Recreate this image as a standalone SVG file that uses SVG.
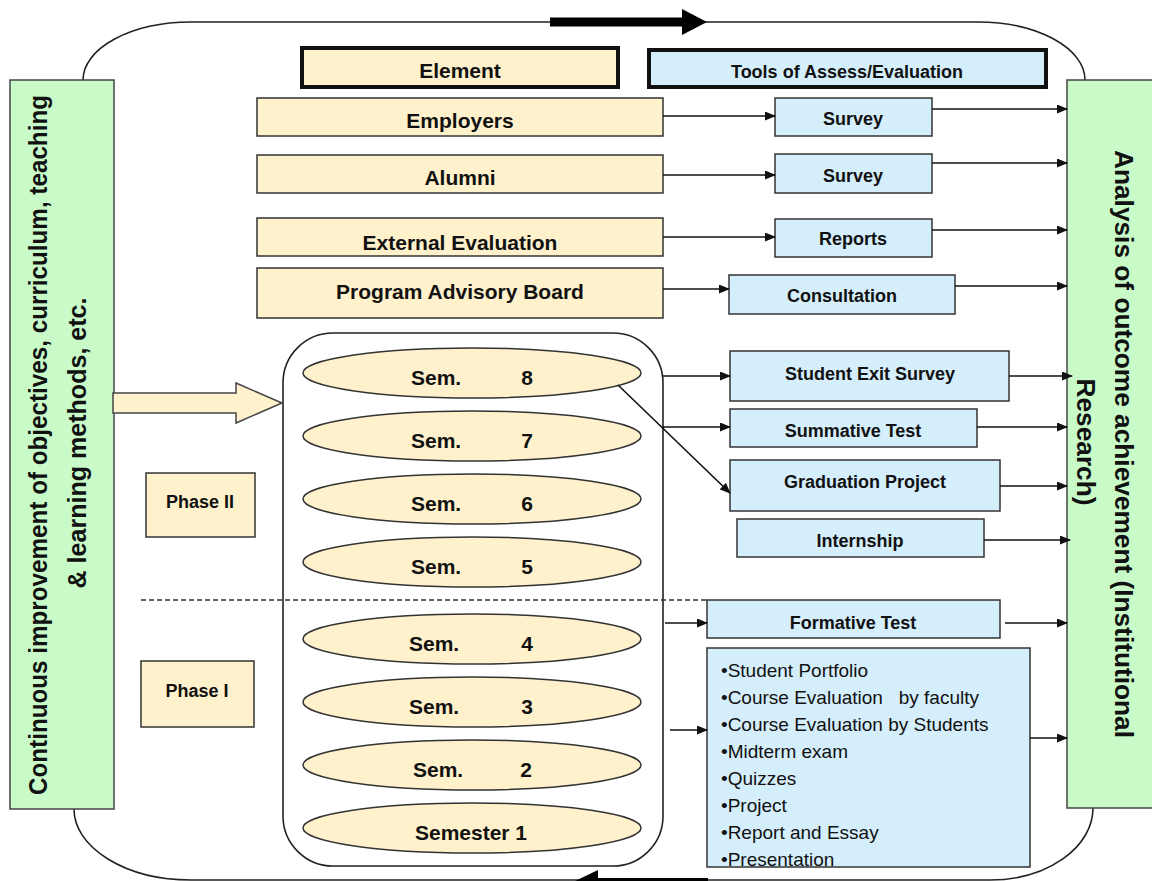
<svg xmlns="http://www.w3.org/2000/svg" width="1152" height="881" viewBox="0 0 1152 881">
<defs>
<style>
.cream{fill:#FFF1CC;stroke:#333;stroke-width:1.5}
.blue{fill:#D5EEFB;stroke:#333;stroke-width:1.5}
.green{fill:#C9FBC9;stroke:#444;stroke-width:1.5}
.thick{stroke:#111;stroke-width:4}
.lbl{font-family:"Liberation Sans",Arial,sans-serif;font-weight:bold;font-size:21px;fill:#111;text-anchor:middle}
.tl{font-family:"Liberation Sans",Arial,sans-serif;font-weight:bold;font-size:18px;fill:#111;text-anchor:middle}
.side{font-family:"Liberation Sans",Arial,sans-serif;font-weight:bold;font-size:26px;fill:#111;text-anchor:middle}
.list{font-family:"Liberation Sans",Arial,sans-serif;font-size:19px;fill:#111;white-space:pre}
.con{fill:none;stroke:#111;stroke-width:1.6}
.loop{fill:none;stroke:#222;stroke-width:1.6}
</style>
<marker id="ah" markerUnits="userSpaceOnUse" markerWidth="11" markerHeight="9" refX="10" refY="4.5" orient="auto">
<path d="M0,0 L11,4.5 L0,9 z" fill="#111"/>
</marker>
</defs>
<rect width="1152" height="881" fill="#fff"/>

<g id="loop">
<path class="loop" d="M83 80 A108 58 0 0 1 191 22 L978 22 A107 58 0 0 1 1085 80"/>
<path class="loop" d="M1093 808 A103 72 0 0 1 990 880 L191 880 A117 71 0 0 1 74 809"/>
<rect x="550" y="17.5" width="133" height="9" fill="#000"/>
<polygon points="682,9 707,22 682,35" fill="#000"/>
<rect x="597" y="878" width="111" height="9" fill="#000"/>
<polygon points="598,870 573,882 598,894" fill="#000"/>
</g>

<g id="left-box">
<rect class="green" x="10" y="80" width="104" height="729"/>
<text class="side" transform="translate(47,445) rotate(-90)" textLength="700" lengthAdjust="spacingAndGlyphs">Continuous improvement of objectives, curriculum, teaching</text>
<text class="side" transform="translate(86,443) rotate(-90)" textLength="291" lengthAdjust="spacingAndGlyphs">&amp; learning methods, etc.</text>
</g>

<g id="right-box">
<rect class="green" x="1067" y="80" width="100" height="728"/>
<text class="side" transform="translate(1115,444) rotate(90)" textLength="588" lengthAdjust="spacingAndGlyphs">Analysis of outcome achievement (Institutional</text>
<text class="side" transform="translate(1077,442) rotate(90)" textLength="127" lengthAdjust="spacingAndGlyphs">Research)</text>
</g>

<g id="element-header"><rect class="cream thick" x="302" y="48" width="316" height="39"/><text class="lbl" x="460" y="78">Element</text></g>
<g id="tools-header"><rect class="blue thick" x="649" y="50" width="397" height="37"/><text class="tl" x="847" y="78">Tools of Assess/Evaluation</text></g>

<g id="employers"><rect class="cream" x="257" y="98" width="406" height="38"/><text class="lbl" x="460" y="128">Employers</text></g>
<g id="alumni"><rect class="cream" x="257" y="155" width="406" height="38"/><text class="lbl" x="460" y="185">Alumni</text></g>
<g id="external-evaluation"><rect class="cream" x="257" y="218" width="406" height="38"/><text class="lbl" x="460" y="250">External Evaluation</text></g>
<g id="program-advisory-board"><rect class="cream" x="257" y="268" width="406" height="50"/><text class="lbl" x="460" y="299">Program Advisory Board</text></g>

<g id="survey-1"><rect class="blue" x="775" y="98" width="157" height="38"/><text class="tl" x="853" y="125">Survey</text></g>
<g id="survey-2"><rect class="blue" x="775" y="154" width="157" height="39"/><text class="tl" x="853" y="182">Survey</text></g>
<g id="reports"><rect class="blue" x="775" y="219" width="157" height="38"/><text class="tl" x="853" y="245">Reports</text></g>
<g id="consultation"><rect class="blue" x="729" y="275" width="226" height="39"/><text class="tl" x="842" y="302">Consultation</text></g>
<g id="student-exit-survey"><rect class="blue" x="730" y="351" width="279" height="50"/><text class="tl" x="870" y="380">Student Exit Survey</text></g>
<g id="summative-test"><rect class="blue" x="730" y="409" width="247" height="38"/><text class="tl" x="853" y="437">Summative Test</text></g>
<g id="graduation-project"><rect class="blue" x="730" y="460" width="270" height="51"/><text class="tl" x="865" y="488">Graduation Project</text></g>
<g id="internship"><rect class="blue" x="737" y="519" width="247" height="38"/><text class="tl" x="860" y="547">Internship</text></g>
<g id="formative-test"><rect class="blue" x="707" y="600" width="293" height="38"/><text class="tl" x="853" y="629">Formative Test</text></g>
<g id="formative-list"><rect class="blue" x="707" y="648" width="323" height="219"/>
<text class="list" x="721" y="677">•Student Portfolio</text>
<text class="list" x="721" y="704">•Course Evaluation   by faculty</text>
<text class="list" x="721" y="731">•Course Evaluation by Students</text>
<text class="list" x="721" y="758">•Midterm exam</text>
<text class="list" x="721" y="785">•Quizzes</text>
<text class="list" x="721" y="812">•Project</text>
<text class="list" x="721" y="839">•Report and Essay</text>
<text class="list" x="721" y="866">•Presentation</text>
</g>

<g id="phase-2"><rect class="cream" x="146" y="473" width="109" height="64"/><text class="tl" x="200" y="508">Phase II</text></g>
<g id="phase-1"><rect class="cream" x="141" y="661" width="113" height="66"/><text class="tl" x="197" y="697">Phase I</text></g>

<g id="semesters">
<rect x="283" y="333" width="380" height="533" rx="50" ry="50" fill="none" stroke="#222" stroke-width="1.6"/>
<line x1="141" y1="600" x2="706" y2="600" stroke="#333" stroke-width="1.5" stroke-dasharray="5,3"/>
<g id="sem-8"><ellipse class="cream" cx="472" cy="373" rx="169" ry="25"/><text class="lbl" x="411" y="385" text-anchor="start" style="text-anchor:start">Sem.</text><text class="lbl" x="527" y="385">8</text></g>
<g id="sem-7"><ellipse class="cream" cx="472" cy="436" rx="169" ry="25"/><text class="lbl" x="411" y="448" style="text-anchor:start">Sem.</text><text class="lbl" x="527" y="448">7</text></g>
<g id="sem-6"><ellipse class="cream" cx="472" cy="499" rx="169" ry="25"/><text class="lbl" x="411" y="511" style="text-anchor:start">Sem.</text><text class="lbl" x="527" y="511">6</text></g>
<g id="sem-5"><ellipse class="cream" cx="472" cy="562" rx="169" ry="25"/><text class="lbl" x="411" y="574" style="text-anchor:start">Sem.</text><text class="lbl" x="527" y="574">5</text></g>
<g id="sem-4"><ellipse class="cream" cx="472" cy="639" rx="169" ry="25"/><text class="lbl" x="409" y="651" style="text-anchor:start">Sem.</text><text class="lbl" x="527" y="651">4</text></g>
<g id="sem-3"><ellipse class="cream" cx="472" cy="702" rx="169" ry="25"/><text class="lbl" x="409" y="714" style="text-anchor:start">Sem.</text><text class="lbl" x="527" y="714">3</text></g>
<g id="sem-2"><ellipse class="cream" cx="472" cy="765" rx="169" ry="25"/><text class="lbl" x="413" y="777" style="text-anchor:start">Sem.</text><text class="lbl" x="526" y="777">2</text></g>
<g id="sem-1"><ellipse class="cream" cx="472" cy="828" rx="169" ry="25"/><text class="lbl" x="471" y="840">Semester 1</text></g>
</g>

<g id="connectors">
<polygon points="113,393 236,393 236,383 282,403 236,423 236,413 113,413" fill="#FFF1CC" stroke="#444" stroke-width="1.5"/>
<line class="con" x1="663" y1="116" x2="775" y2="116" marker-end="url(#ah)"/>
<line class="con" x1="663" y1="175" x2="775" y2="175" marker-end="url(#ah)"/>
<line class="con" x1="663" y1="237" x2="775" y2="237" marker-end="url(#ah)"/>
<line class="con" x1="663" y1="289" x2="729" y2="289" marker-end="url(#ah)"/>
<line class="con" x1="663" y1="376" x2="730" y2="376" marker-end="url(#ah)"/>
<line class="con" x1="663" y1="427" x2="730" y2="427" marker-end="url(#ah)"/>
<line class="con" x1="618" y1="385" x2="730" y2="493" marker-end="url(#ah)"/>
<line class="con" x1="665" y1="623" x2="707" y2="623" marker-end="url(#ah)"/>
<line class="con" x1="670" y1="730" x2="707" y2="730" marker-end="url(#ah)"/>
<line class="con" x1="932" y1="109" x2="1067" y2="109" marker-end="url(#ah)"/>
<line class="con" x1="932" y1="163" x2="1067" y2="163" marker-end="url(#ah)"/>
<line class="con" x1="932" y1="230" x2="1067" y2="230" marker-end="url(#ah)"/>
<line class="con" x1="955" y1="286" x2="1067" y2="286" marker-end="url(#ah)"/>
<line class="con" x1="1009" y1="376" x2="1072" y2="376" marker-end="url(#ah)"/>
<line class="con" x1="977" y1="427" x2="1067" y2="427" marker-end="url(#ah)"/>
<line class="con" x1="1000" y1="486" x2="1067" y2="486" marker-end="url(#ah)"/>
<line class="con" x1="984" y1="540" x2="1070" y2="540" marker-end="url(#ah)"/>
<line class="con" x1="1005" y1="623" x2="1067" y2="623" marker-end="url(#ah)"/>
<line class="con" x1="1030" y1="738" x2="1067" y2="738" marker-end="url(#ah)"/>
</g>
</svg>
